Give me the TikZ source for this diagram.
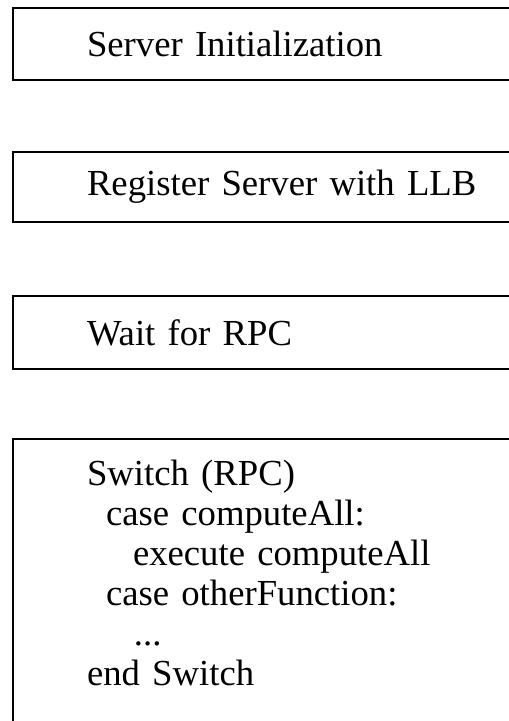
\documentclass[tikz,border=0pt]{standalone}
\usepackage{fontspec}
\setmainfont{Liberation Serif}
\DeclareRobustCommand\stepfont{\fontsize{36.7}{40}\selectfont\spaceskip=6.8pt\relax}
\tikzset{
  stepbox/.style={draw,line width=2pt,anchor=north west,inner xsep=74pt,inner ysep=0pt,
    text width=460pt,align=left,font=\stepfont},
}
\begin{document}
\begin{tikzpicture}[x=1pt,y=-1pt]
\useasboundingbox(0,0)rectangle(509,721);
\node[stepbox,minimum height=72pt](init)at(12,7){Server Initialization};
\node[stepbox,minimum height=70pt](register)at(12,151){Register Server with LLB};
\node[stepbox,minimum height=73pt](wait)at(12,295){Wait for RPC};
% switch block runs off the page at the bottom
\node[stepbox,inner ysep=21.5pt](dispatch)at(12,438){Switch (RPC)\\
  \hspace*{19pt}case computeAll:\\
  \hspace*{46pt}execute computeAll\\
  \hspace*{19pt}case otherFunction:\\
  \hspace*{47pt}...\\
  end Switch\rule[-60pt]{0pt}{0pt}};
\end{tikzpicture}
\end{document}
